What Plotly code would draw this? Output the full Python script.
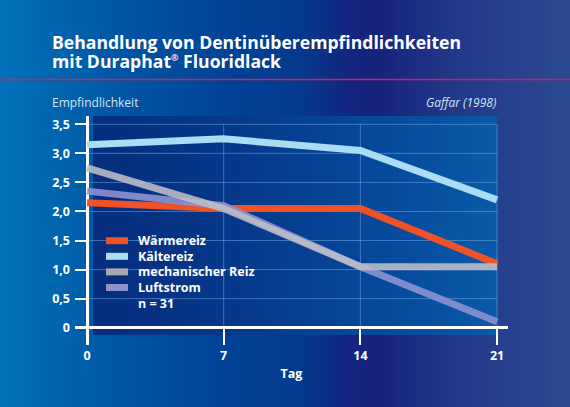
import numpy as np
import plotly.graph_objects as go

# ---------------- data ----------------
days = [0, 7, 14, 21]
waermereiz = [2.15, 2.05, 2.05, 1.1]
kaeltereiz = [3.15, 3.25, 3.05, 2.2]
mechanischer_reiz = [2.75, 2.05, 1.05, 1.05]
luftstrom = [2.35, 2.1, 1.05, 0.1]

series_names = ["Wärmereiz", "Kältereiz", "mechanischer Reiz", "Luftstrom"]
series_values = [waermereiz, kaeltereiz, mechanischer_reiz, luftstrom]
series_colors = ["#ef5325", "#aadcf4", "rgba(190,190,198,0.88)", "rgba(140,146,210,0.9)"]
legend_colors = ["#ef5325", "#aadcf4", "#a8a8b0", "#8c92cc"]

y_tickvals = [0, 0.5, 1.0, 1.5, 2.0, 2.5, 3.0, 3.5]
y_ticktext = ["0", "0,5", "1,0", "1,5", "2,0", "2,5", "3,0", "3,5"]
x_tickvals = [0, 7, 14, 21]
x_ticktext = ["0", "7", "14", "21"]

title_line1 = "Behandlung von Dentinüberempfindlichkeiten"
title_line2 = "mit Duraphat<sup><span style='font-size:9px'>®</span></sup> Fluoridlack"
y_label = "Empfindlichkeit"
source = "<i>Gaffar (1998)</i>"
x_label = "Tag"
n_text = "n = 31"

# ---------------- geometry ----------------
W, H = 570, 407
L, R, T, B = 75, 62, 116, 62
PW, PH = W - L - R, H - T - B
X_RANGE = [-0.615, 21.56]
Y_RANGE = [-0.298, 3.643]
FONT = "'Open Sans', Lato, sans-serif"


def px_x(p):
    return (p - L) / PW


def px_y(p):
    return 1 - (p - T) / PH


def interp_color(stops, t):
    pos = [s[0] for s in stops]
    cols = [tuple(int(s[1][i:i + 2], 16) for i in (1, 3, 5)) for s in stops]
    r = np.interp(t, pos, [c[0] for c in cols])
    g = np.interp(t, pos, [c[1] for c in cols])
    b = np.interp(t, pos, [c[2] for c in cols])
    return "rgb(%d,%d,%d)" % (r, g, b)


shapes = []

# background gradient (horizontal)
bg_stops = [(0, "#0273ba"), (110, "#0058a6"), (230, "#004296"), (300, "#053a8e"),
            (350, "#13267f"), (380, "#17237d"), (450, "#213889"), (570, "#2d4b93")]
step = 6
for p in range(0, W, step):
    shapes.append(dict(type="rect", xref="paper", yref="paper",
                       x0=px_x(p), x1=px_x(p + step + 0.6), y0=px_y(H), y1=px_y(0),
                       line=dict(width=0), fillcolor=interp_color(bg_stops, p + step / 2),
                       layer="below"))

# inner panel gradient
pan_stops = [(93, "#062d7e"), (250, "#063a8c"), (400, "#074c9e"), (497, "#0a5aa8")]
for p in range(93, 497, step):
    p1 = min(p + step + 0.6, 497)
    shapes.append(dict(type="rect", xref="paper", yref="paper",
                       x0=px_x(p), x1=px_x(p1), y0=px_y(335), y1=px_y(116),
                       line=dict(width=0), fillcolor=interp_color(pan_stops, p + step / 2),
                       layer="below"))

grid_col = "rgba(110,170,230,0.55)"
for v in y_tickvals[1:]:
    shapes.append(dict(type="line", xref="x", yref="y", x0=0, x1=21, y0=v, y1=v,
                       line=dict(color=grid_col, width=1), layer="below"))
for d in x_tickvals[1:]:
    shapes.append(dict(type="line", xref="x", yref="y", x0=d, x1=d, y0=0, y1=3.5,
                       line=dict(color=grid_col, width=1), layer="below"))

# magenta separator line
shapes.append(dict(type="line", xref="paper", yref="paper", x0=px_x(0), x1=px_x(W),
                   y0=px_y(79.5), y1=px_y(79.5), line=dict(color="#d8196f", width=1.4)))

fig = go.Figure()

draw_order = [1, 0, 3, 2]
for i in draw_order:
    fig.add_trace(go.Scatter(x=days, y=series_values[i], mode="lines", name=series_names[i],
                             line=dict(color=series_colors[i], width=7),
                             showlegend=False, hoverinfo="skip"))

annotations = []
# custom legend
leg_y0, leg_dy = 240.7, 15.6
for k, name in enumerate(series_names):
    yc = leg_y0 + k * leg_dy
    shapes.append(dict(type="rect", xref="paper", yref="paper",
                       x0=px_x(106), x1=px_x(128), y0=px_y(yc + 3.5), y1=px_y(yc - 3.5),
                       line=dict(width=0), fillcolor=legend_colors[k]))
    annotations.append(dict(text="<b>%s</b>" % name, xref="paper", yref="paper",
                            x=px_x(136), y=px_y(yc), xanchor="left", yanchor="middle",
                            showarrow=False, font=dict(size=12.5, color="white")))
annotations.append(dict(text="<b>%s</b>" % n_text, xref="paper", yref="paper",
                        x=px_x(136), y=px_y(leg_y0 + 4 * leg_dy), xanchor="left", yanchor="middle",
                        showarrow=False, font=dict(size=12.5, color="white")))

annotations.append(dict(text="<b>%s</b>" % title_line1, xref="paper", yref="paper",
                        x=px_x(50), y=px_y(42), xanchor="left", yanchor="middle",
                        showarrow=False, font=dict(size=17.6, color="white")))
annotations.append(dict(text="<b>%s</b>" % title_line2, xref="paper", yref="paper",
                        x=px_x(50), y=px_y(61.5), xanchor="left", yanchor="middle",
                        showarrow=False, font=dict(size=17.6, color="white")))
annotations.append(dict(text=y_label, xref="paper", yref="paper",
                        x=px_x(50), y=px_y(102), xanchor="left", yanchor="middle",
                        showarrow=False, font=dict(size=12, color="#d6e4f4")))
annotations.append(dict(text=source, xref="paper", yref="paper",
                        x=px_x(498), y=px_y(102), xanchor="right", yanchor="middle",
                        showarrow=False, font=dict(size=12, color="#d6e4f4")))

fig.update_layout(
    width=W, height=H,
    margin=dict(l=L, r=R, t=T, b=B),
    paper_bgcolor="#0a3a8e",
    plot_bgcolor="rgba(0,0,0,0)",
    font=dict(family=FONT, color="white"),
    shapes=shapes,
    annotations=annotations,
    showlegend=False,
    xaxis=dict(range=X_RANGE, tickvals=x_tickvals, ticktext=x_ticktext,
               ticks="inside", ticklen=17, tickwidth=2, tickcolor="white",
               ticklabelstandoff=1,
               showgrid=False, zeroline=True, zerolinecolor="white", zerolinewidth=2.5,
               showline=False, tickfont=dict(size=12.5, color="white", weight="bold"),
               title=dict(text="<b>%s</b>" % x_label, font=dict(size=12.5, color="white"), standoff=6),
               fixedrange=True),
    yaxis=dict(range=Y_RANGE, tickvals=y_tickvals, ticktext=y_ticktext,
               ticks="inside", ticklen=12, tickwidth=2, tickcolor="white",
               ticklabelstandoff=4,
               showgrid=False, zeroline=True, zerolinecolor="white", zerolinewidth=2.5,
               showline=False, tickfont=dict(size=12.5, color="white", weight="bold"),
               fixedrange=True),
)

fig.write_html("out.html", config={"displayModeBar": False},
               post_script="document.body.style.margin='0';document.body.style.overflow='hidden';")
